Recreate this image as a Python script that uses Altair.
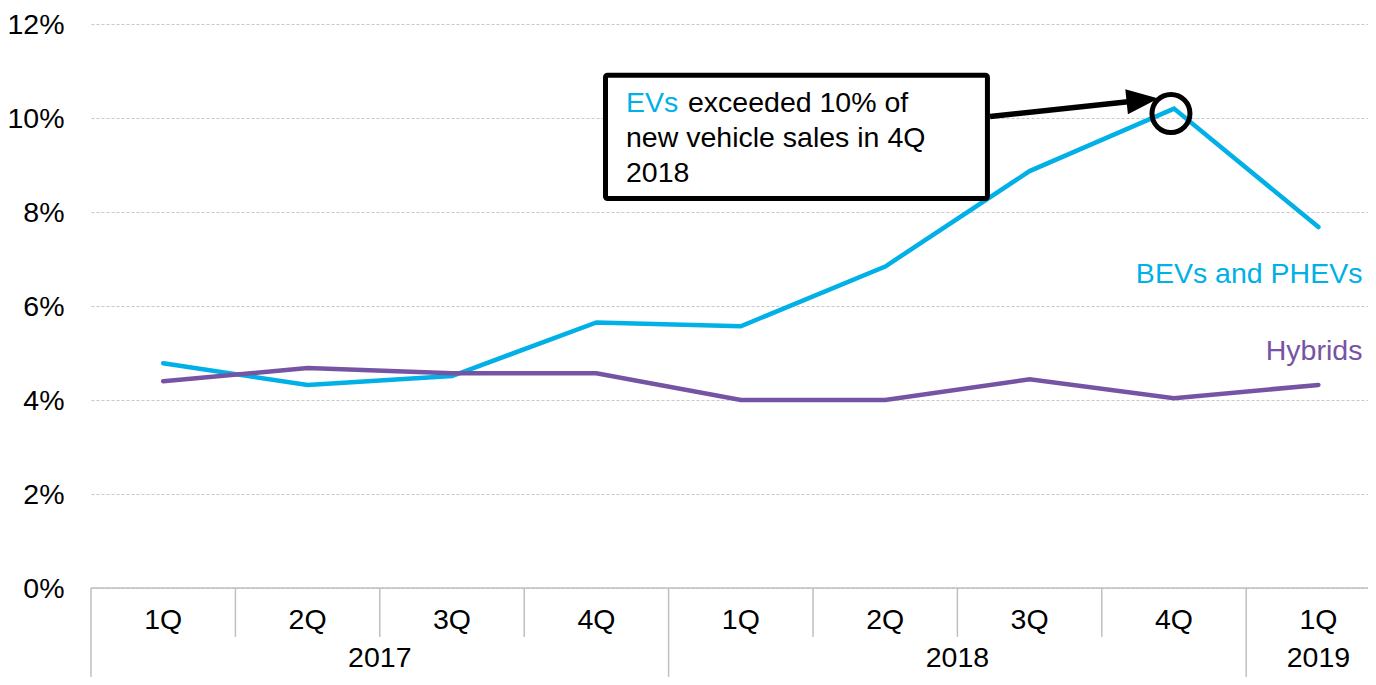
import altair as alt
import pandas as pd

# ---------------- data ----------------
quarters = ["1Q", "2Q", "3Q", "4Q", "1Q", "2Q", "3Q", "4Q", "1Q"]
years = ["2017", "2017", "2017", "2017", "2018", "2018", "2018", "2018", "2019"]
ev_share = [4.78, 4.32, 4.51, 5.65, 5.57, 6.84, 8.87, 10.2, 7.68]
hybrid_share = [4.40, 4.68, 4.57, 4.57, 4.00, 4.00, 4.44, 4.04, 4.32]
series_names = ["BEVs and PHEVs", "Hybrids"]
series_colors = ["#00B0E6", "#7654A4"]
y_ticks = [0, 2, 4, 6, 8, 10, 12]
annot_highlight = "EVs"
annot_lines = ["exceeded 10% of", "new vehicle sales in 4Q", "2018"]

# ---------------- layout ----------------
FONT = "Liberation Sans"
FS = 28.5
PAD_L, PAD_T, PAD_B = 83, 16, 89
W, H = 1277, 564
BAND = 144.4
X_MAX = -0.5 + W / BAND
GRAY = "#bfbfbf"

xscale = alt.Scale(domain=[-0.5, X_MAX], nice=False, zero=False)
yscale = alt.Scale(domain=[0, 12], nice=False, zero=False)

yaxis = alt.Axis(
    values=y_ticks, labelExpr="datum.value + '%'", domain=False, ticks=False, tickSize=0,
    labelPadding=27, labelFont=FONT, labelFontSize=FS, labelColor="#000000",
    grid=True, gridDash=[3, 2], gridColor="#c8c8c8", gridWidth=1.2, title=None,
)


def X(field="idx"):
    return alt.X(f"{field}:Q", scale=xscale, axis=None)


def Y(field="value"):
    return alt.Y(f"{field}:Q", scale=yscale, axis=yaxis)


n = len(quarters)
idx = list(range(n))
df = pd.DataFrame({
    "idx": idx * 2,
    "value": ev_share + hybrid_share,
    "series": [series_names[0]] * n + [series_names[1]] * n,
})

color = alt.Color("series:N", scale=alt.Scale(domain=series_names, range=series_colors), legend=None)

lines = alt.Chart(df).mark_line(strokeWidth=4.5, strokeCap="round").encode(
    x=X(), y=Y(), color=color
)

# series labels
lab = pd.DataFrame({"series": series_names, "idx": [8, 8], "value": [6.69, 5.04]})
labels = alt.Chart(lab).mark_text(
    align="right", baseline="middle", dx=44, font=FONT, fontSize=FS
).encode(x=X(), y=Y(), text="series:N", color=color)

# baseline
base = alt.Chart(pd.DataFrame({"value": [0]})).mark_rule(color=GRAY, strokeWidth=1.5).encode(y=Y())

# category table separators
short_b, long_b = [], []
for i in range(n):
    if i == 0 or years[i] != years[i - 1]:
        long_b.append(i - 0.5)
    else:
        short_b.append(i - 0.5)
sep_short = alt.Chart(pd.DataFrame({"idx": short_b})).mark_rule(color=GRAY, strokeWidth=1.5).encode(
    x=X(), y=alt.value(H), y2=alt.value(H + 49)
)
sep_long = alt.Chart(pd.DataFrame({"idx": long_b})).mark_rule(color=GRAY, strokeWidth=1.5).encode(
    x=X(), y=alt.value(H), y2=alt.value(H + PAD_B)
)
qdf = pd.DataFrame({"idx": idx, "q": quarters})
qlabels = alt.Chart(qdf).mark_text(baseline="middle", font=FONT, fontSize=FS, color="#000000").encode(
    x=X(), y=alt.value(H + 32), text="q:N"
)
ydf = pd.DataFrame({"idx": idx, "year": years}).groupby("year", as_index=False)["idx"].mean()
ylabels = alt.Chart(ydf).mark_text(baseline="middle", font=FONT, fontSize=FS, color="#000000").encode(
    x=X(), y=alt.value(H + 70), text="year:N"
)

# annotation box
box = alt.Chart(pd.DataFrame({"x": [3.063], "x2": [5.708], "y": [10.91], "y2": [8.286]})).mark_rect(
    fill="white", stroke="black", strokeWidth=5, cornerRadius=2
).encode(x=X("x"), x2="x2:Q", y=Y("y"), y2="y2:Q")

t_hl = alt.Chart(pd.DataFrame({"idx": [3.205], "value": [10.138], "t": [annot_highlight]})).mark_text(
    align="left", baseline="alphabetic", font=FONT, fontSize=FS, color=series_colors[0]
).encode(x=X(), y=Y(), text="t:N")
t_rest = alt.Chart(pd.DataFrame({
    "idx": [3.205, 3.205, 3.205], "value": [10.138, 9.376, 8.635], "t": annot_lines, "dx": [62, 0, 0]
}))
t1 = t_rest.transform_filter("datum.dx > 0").mark_text(
    align="left", baseline="alphabetic", font=FONT, fontSize=FS, color="#000000", dx=62
).encode(x=X(), y=Y(), text="t:N")
t23 = t_rest.transform_filter("datum.dx == 0").mark_text(
    align="left", baseline="alphabetic", font=FONT, fontSize=FS, color="#000000"
).encode(x=X(), y=Y(), text="t:N")

# arrow
arrow_line = alt.Chart(pd.DataFrame({"x": [5.726], "x2": [6.73], "y": [10.03], "y2": [10.36]})).mark_rule(
    color="black", strokeWidth=5.5
).encode(x=X("x"), x2="x2:Q", y=Y("y"), y2="y2:Q")
arrow_head = alt.Chart(pd.DataFrame({"idx": [6.782], "value": [10.381]})).mark_point(
    shape="M-1,-0.78L1,0L-1,0.78Z", size=1024, angle=354, filled=True, color="black", opacity=1
).encode(x=X(), y=Y())
circle = alt.Chart(pd.DataFrame({"idx": [6.979], "value": [10.095]})).mark_point(
    shape="circle", size=1444, filled=False, stroke="black", strokeWidth=5, opacity=1
).encode(x=X(), y=Y())

chart = alt.layer(
    lines, base, sep_short, sep_long, qlabels, ylabels, labels,
    box, t_hl, t1, t23, arrow_line, arrow_head, circle
).properties(
    width=W, height=H,
    padding={"left": PAD_L, "top": PAD_T, "right": 0, "bottom": PAD_B},
    autosize=alt.AutoSizeParams(type="none"),
    background="white",
).configure_view(stroke=None)

chart.save("out.html", embed_options={"renderer": "svg", "actions": False})
